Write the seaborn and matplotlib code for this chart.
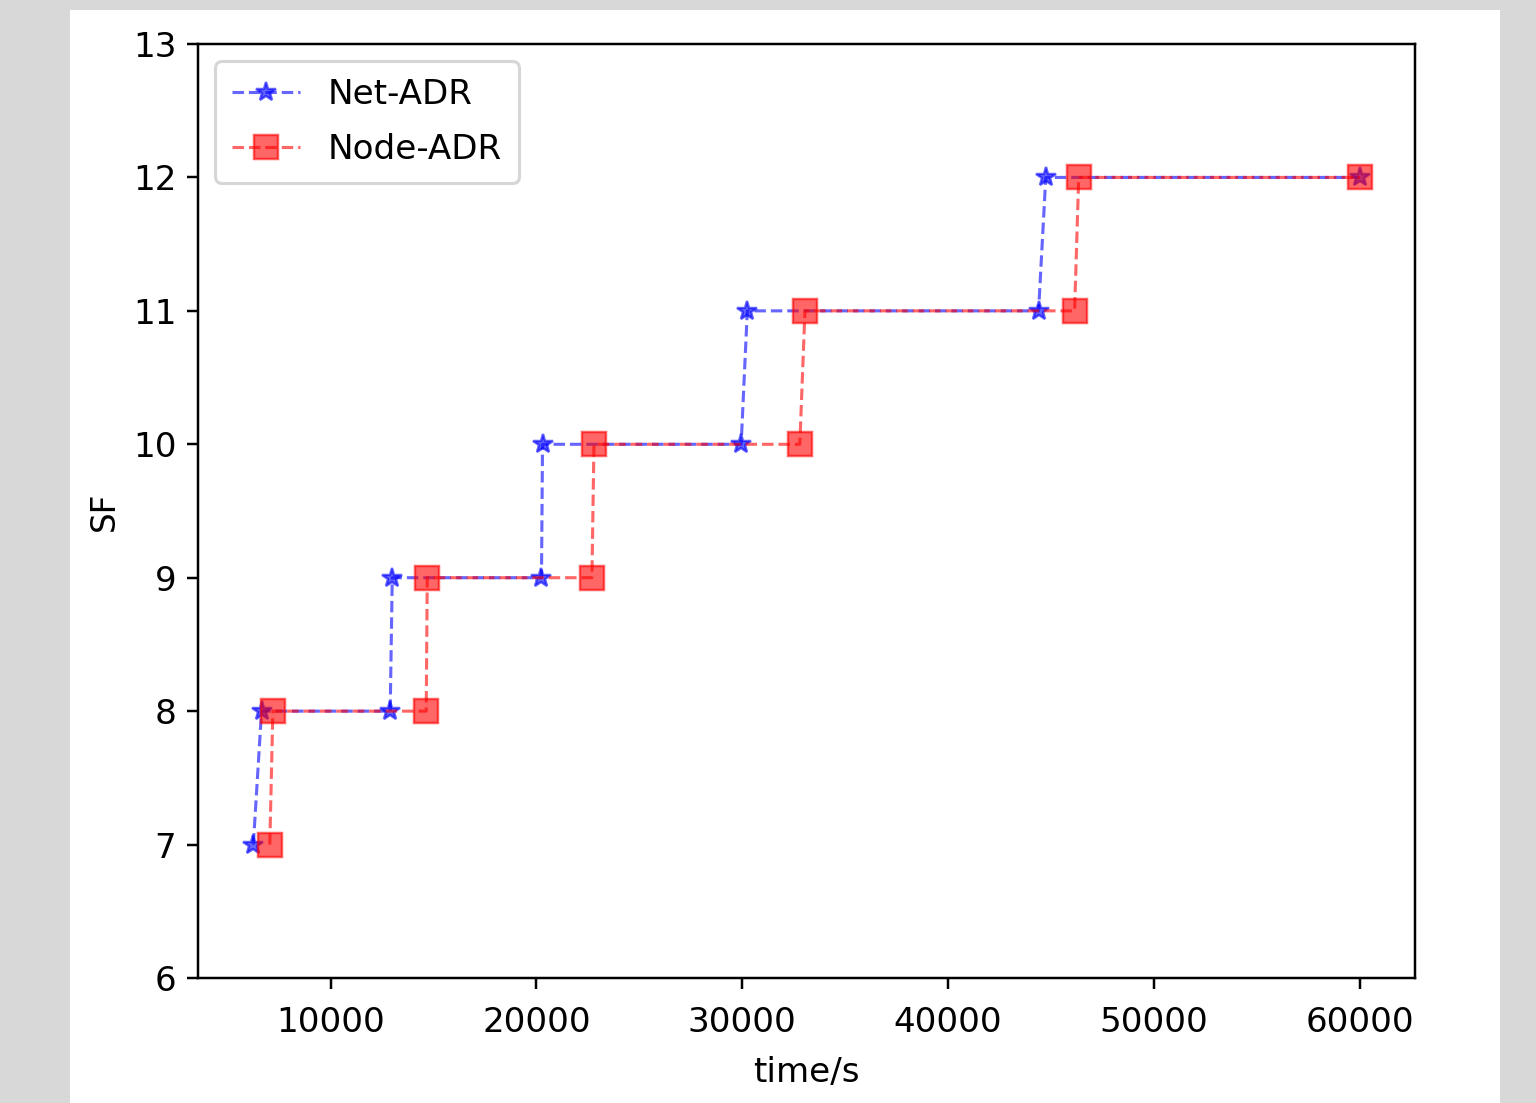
import numpy as np
import pandas as pd
import matplotlib
matplotlib.use("Agg")
import matplotlib.pyplot as plt
from matplotlib.patches import Rectangle
import seaborn as sns

# step points (time in s, spreading factor)
net_time = [6250, 6650, 12900, 13000, 20250, 20300, 29950, 30250, 44400, 44750, 60000]
net_sf = [7, 8, 8, 9, 9, 10, 10, 11, 11, 12, 12]

node_time = [7050, 7200, 14650, 14700, 22700, 22800, 32800, 33050, 46150, 46350, 60000]
node_sf = [7, 8, 8, 9, 9, 10, 10, 11, 11, 12, 12]

y_ticks = [6, 7, 8, 9, 10, 11, 12, 13]

DPI = 223
plt.rcParams['font.family'] = ['DejaVu Sans']
plt.rcParams['font.size'] = 11

fig = plt.figure(figsize=(1536 / DPI, 1103 / DPI), dpi=DPI, facecolor='#d8d8d8')
# white canvas sitting inside the grey frame
fig.patches.append(Rectangle((70 / 1536, 0), 1430 / 1536, 1093 / 1103,
                             transform=fig.transFigure, facecolor='white',
                             edgecolor='none', zorder=-10))

ax = fig.add_axes([198 / 1536, 1 - 978 / 1103, 1217 / 1536, 934 / 1103])
ax.set_zorder(1)

net = pd.DataFrame({'time': net_time, 'SF': net_sf})
node = pd.DataFrame({'time': node_time, 'SF': node_sf})

sns.lineplot(data=net, x='time', y='SF', ax=ax, sort=False, estimator=None,
             color='b', linestyle='--', linewidth=1, marker='*', markersize=6.5,
             markeredgecolor='b', markeredgewidth=0.8,
             alpha=0.6, label='Net-ADR')
sns.lineplot(data=node, x='time', y='SF', ax=ax, sort=False, estimator=None,
             color='r', linestyle='--', linewidth=1, marker='s', markersize=7.5,
             markeredgecolor='r', markeredgewidth=0.8,
             alpha=0.6, label='Node-ADR')

ax.set_ylim(6, 13)
ax.set_yticks(y_ticks)
ax.tick_params(axis='x', pad=5.5)
ax.set_xlabel('time/s', labelpad=5.5)
ax.set_ylabel('SF', fontsize=10.5)
ax.legend(loc='upper left', fontsize=11, labelspacing=0.65, borderpad=0.5)

plt.savefig('out.png', dpi=DPI, facecolor=fig.get_facecolor())
